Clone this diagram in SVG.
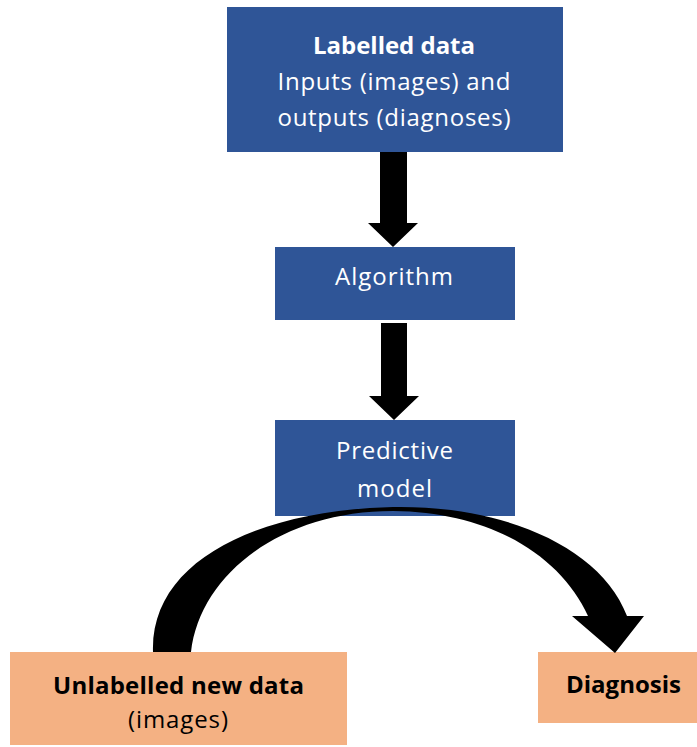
<svg xmlns="http://www.w3.org/2000/svg" width="697" height="747" viewBox="0 0 697 747">
  <style>
    .blue { fill: #2F5597; }
    .orange { fill: #F4B183; }
    .wt { fill: #ffffff; font-family: "Open Sans", "Liberation Sans", sans-serif; font-size: 24px; text-anchor: middle; }
    .bk { fill: #000000; font-family: "Open Sans", "Liberation Sans", sans-serif; font-size: 24px; text-anchor: middle; }
    .b { font-weight: bold; }
    .arrow { fill: #000000; }
  </style>

  <g id="labelled-data">
    <rect class="blue" x="227" y="7" width="336" height="145"/>
    <text class="wt b" x="394" y="54" textLength="162">Labelled data</text>
    <text class="wt" x="394" y="90" textLength="233">Inputs (images) and</text>
    <text class="wt" x="394" y="126" textLength="233">outputs (diagnoses)</text>
  </g>

  <g id="algorithm">
    <rect class="blue" x="275" y="247" width="240" height="73"/>
    <text class="wt" x="394" y="285" textLength="118">Algorithm</text>
  </g>

  <g id="predictive-model">
    <rect class="blue" x="275" y="420" width="240" height="96"/>
    <text class="wt" x="394.5" y="459" textLength="117">Predictive</text>
    <text class="wt" x="394.5" y="497" textLength="75">model</text>
  </g>

  <g id="unlabelled-new-data">
    <rect class="orange" x="10" y="652" width="337" height="93"/>
    <text class="bk b" x="178.5" y="694" textLength="251">Unlabelled new data</text>
    <text class="bk" x="178" y="728" textLength="100">(images)</text>
  </g>

  <g id="diagnosis">
    <rect class="orange" x="538" y="652" width="159" height="71"/>
    <text class="bk b" x="623.5" y="693" textLength="115">Diagnosis</text>
  </g>

  <g id="connectors">
    <!-- block arrow: labelled data to algorithm -->
    <polygon class="arrow" points="380,152 407,152 407,223 418,223 393,247 368,223 380,223"/>
    <!-- block arrow: algorithm to predictive model -->
    <polygon class="arrow" points="381,323 407,323 407,396 419,396 394,420 369,396 381,396"/>
    <!-- curved arrow: new data through the model to diagnosis -->
    <path class="arrow" d="M153,652 C150,560 260,510 393,507 C500,505 600,545 627,616 L644,616 L615,653 L572,616 L588,616 C560,555 490,512 393,511 C280,511 200,575 191,652 Z"/>
  </g>
</svg>
